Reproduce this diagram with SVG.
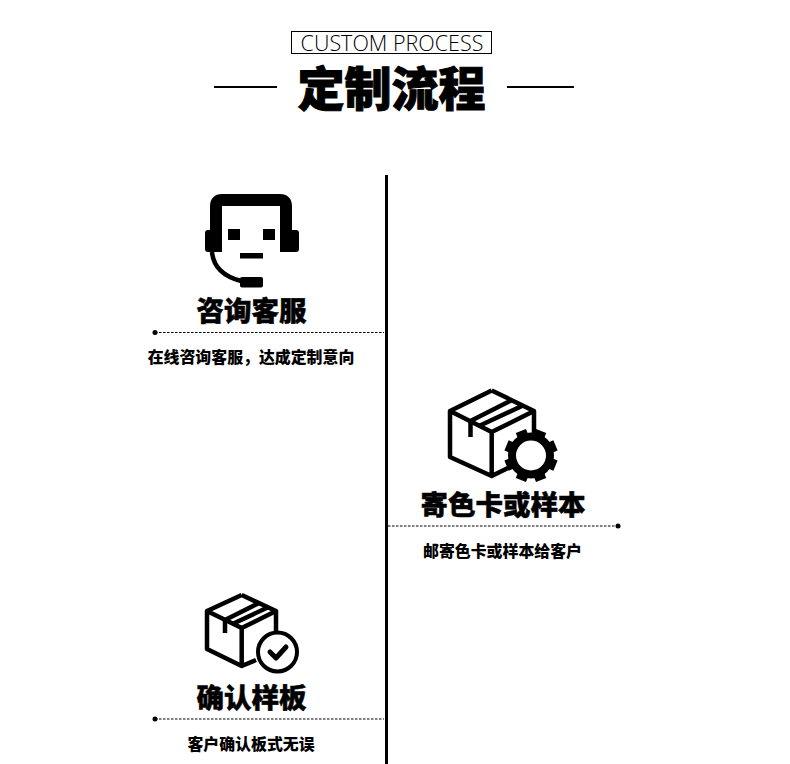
<svg xmlns="http://www.w3.org/2000/svg" width="790" height="764" viewBox="0 0 790 764">
<style>
text{font-family:"Noto Sans CJK SC","Noto Sans",sans-serif;fill:#000;text-anchor:middle}
.h{font-size:27.5px;font-weight:900;stroke:#000;stroke-width:.5px}
.s{font-size:15.9px;font-weight:900}
.ic{fill:none;stroke:#000;stroke-width:4.500;stroke-linejoin:round;stroke-linecap:butt}
.dash{fill:none;stroke:#000;stroke-width:1;stroke-dasharray:2.500 1.500}
.rule{stroke:#000;stroke-width:2;fill:none}
</style>
<defs>
<rect id="tooth" x="-5.500" y="-26.500" width="11" height="9"/>
</defs>
<rect width="790" height="764" fill="#fff"/>
<g id="header">
<rect x="291.500" y="31.500" width="200" height="22" fill="none" stroke="#000" stroke-width="1"/>
<text x="392" y="50.500" style="font-family:'Open Sans','Noto Sans',sans-serif;font-weight:300;font-size:21.500px">CUSTOM PROCESS</text>
<text x="391.500" y="106" style="font-size:47px;font-weight:900;stroke:#000;stroke-width:1px">定制流程</text>
<path class="rule" d="M214 87H277M507 87H574"/>
</g>
<g id="connectors">
<path d="M386.500 175V764" stroke="#000" stroke-width="3" fill="none"/>
<path class="dash" d="M155 332.500H384"/>
<circle cx="155" cy="332.500" r="2.500"/>
<path class="dash" d="M388 526H618"/>
<circle cx="618" cy="526" r="2.500"/>
<path class="dash" d="M155 719H384"/>
<circle cx="155" cy="719" r="2.500"/>
</g>
<g id="node-consult">
<path d="M216 252V206Q216 200 222 200H280Q286 200 286 206V252" fill="none" stroke="#000" stroke-width="12"/>
<rect x="205" y="230" width="8" height="22" rx="3"/>
<rect x="288" y="230" width="11" height="22" rx="3"/>
<rect x="228" y="229" width="12" height="11"/>
<rect x="263" y="229" width="12" height="11"/>
<rect x="240" y="253" width="23" height="5.500"/>
<path d="M212 252Q214 274 241 281" fill="none" stroke="#000" stroke-width="4.500"/>
<rect x="240" y="277" width="23" height="10.500" rx="2"/>
<text class="h" x="251.500" y="321">咨询客服</text>
<text class="s" x="251" y="363">在线咨询客服，达成定制意向</text>
</g>
<g id="node-sample">
<path class="ic" d="M491.700 390.500L534 411V436M491.700 390.500L450 411V457L491.700 476L512 466M450 411L491.700 432L534 411M491.700 432V476"/>
<path class="ic" d="M470.500 437V421L512 400M479.500 425.700L523 405.500"/>
<g transform="translate(531 455.500)">
<circle r="19" fill="none" stroke="#000" stroke-width="8"/>
<use href="#tooth" transform="rotate(22.500)"/>
<use href="#tooth" transform="rotate(67.500)"/>
<use href="#tooth" transform="rotate(112.500)"/>
<use href="#tooth" transform="rotate(157.500)"/>
<use href="#tooth" transform="rotate(202.500)"/>
<use href="#tooth" transform="rotate(247.500)"/>
<use href="#tooth" transform="rotate(292.500)"/>
<use href="#tooth" transform="rotate(337.500)"/>
</g>
<text class="h" x="503" y="515">寄色卡或样本</text>
<text class="s" x="502.500" y="557">邮寄色卡或样本给客户</text>
</g>
<g id="node-confirm">
<path class="ic" d="M241.700 595L276 611V632M241.700 595L207 611V649L241.700 666L256 660M207 611L241.700 628L276 611M241.700 628V666"/>
<path class="ic" d="M225 633V620L259 603M233 623.700L268 607.300"/>
<circle cx="277.500" cy="652" r="19.500" fill="#fff" stroke="#000" stroke-width="4"/>
<path d="M270 652L276 658L286 647" fill="none" stroke="#000" stroke-width="5" stroke-linecap="round" stroke-linejoin="round"/>
<text class="h" x="251.500" y="708">确认样板</text>
<text class="s" x="251" y="750">客户确认板式无误</text>
</g>
</svg>
